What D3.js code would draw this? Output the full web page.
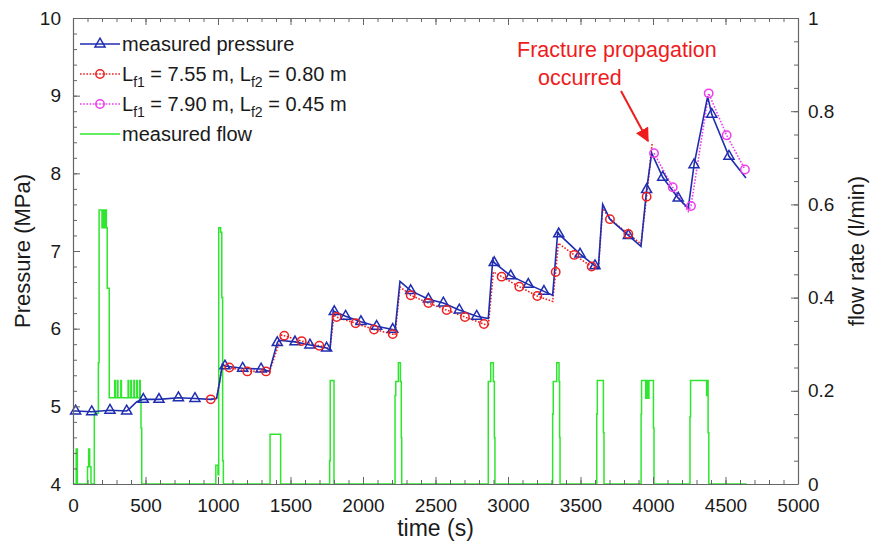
<!DOCTYPE html>
<html>
<head>
<meta charset="utf-8">
<script src="https://cdn.jsdelivr.net/npm/d3@7"></script>
<style>
  html, body { margin: 0; padding: 0; background: #fff; }
  svg { display: block; font-family: "Liberation Sans", Arial, Helvetica, sans-serif; }
</style>
</head>
<body>
<svg id="chart" width="875" height="550"></svg>
<script>
// Measured pressure curve: [time (s), pressure (MPa)]
const pressureLine = [
  [0, 4.94], [18, 4.94], [129, 4.93], [255, 4.95], [370, 4.94], [385, 4.96], [440, 5.06],
  [485, 5.09], [593, 5.09], [727, 5.11], [841, 5.10], [950, 5.09], [990, 5.10], [1010, 5.30],
  [1030, 5.54], [1048, 5.52], [1170, 5.49], [1297, 5.48], [1354, 5.45], [1409, 5.82], [1420, 5.85],
  [1531, 5.83], [1634, 5.79], [1749, 5.75], [1772, 5.72], [1795, 6.24], [1802, 6.22],
  [1880, 6.16], [1986, 6.09], [2094, 6.03], [2205, 5.99], [2221, 5.98], [2255, 6.61],
  [2329, 6.49], [2451, 6.38], [2554, 6.33], [2664, 6.24], [2784, 6.16], [2864, 6.13],
  [2895, 6.89], [2905, 6.85], [3019, 6.68], [3140, 6.57], [3248, 6.48], [3308, 6.43],
  [3343, 7.25], [3350, 7.22], [3497, 6.96], [3600, 6.81], [3623, 6.78], [3653, 7.60],
  [3703, 7.41], [3830, 7.20], [3917, 7.06], [3956, 7.79], [3991, 8.26], [4067, 7.95],
  [4174, 7.68], [4243, 7.55], [4283, 8.11], [4377, 8.99], [4405, 8.76], [4524, 8.22], [4641, 7.94]
];
// Triangle markers on the measured pressure curve
const pressureMarkers = [
  [18, 4.94], [129, 4.93], [255, 4.95], [370, 4.94], [485, 5.09], [593, 5.09], [727, 5.11],
  [841, 5.10], [1048, 5.52], [1170, 5.49], [1297, 5.48], [1409, 5.82], [1531, 5.83],
  [1634, 5.79], [1749, 5.75], [1802, 6.22], [1880, 6.16], [1986, 6.09], [2094, 6.03],
  [2205, 5.99], [2329, 6.49], [2451, 6.38], [2554, 6.33], [2664, 6.24], [2784, 6.16],
  [2905, 6.85], [3019, 6.68], [3140, 6.57], [3248, 6.48], [3350, 7.22], [3497, 6.96],
  [3600, 6.81], [3830, 7.20], [3956, 7.79], [4067, 7.95], [4174, 7.68], [4283, 8.11],
  [4405, 8.76], [4524, 8.22]
];

// Model, Lf1 = 7.55 m, Lf2 = 0.80 m
const model1Line = [
  [950, 5.09], [990, 5.10], [1030, 5.52], [1078, 5.50], [1202, 5.45], [1331, 5.45], [1354, 5.44],
  [1440, 5.92], [1457, 5.91], [1577, 5.84], [1699, 5.78], [1772, 5.74], [1800, 6.18],
  [1818, 6.15], [1949, 6.07], [2076, 5.99], [2205, 5.93], [2221, 5.92], [2255, 6.54],
  [2329, 6.43], [2451, 6.33], [2577, 6.24], [2703, 6.15], [2834, 6.06], [2864, 6.03],
  [2899, 6.73], [2956, 6.67], [3078, 6.54], [3202, 6.42], [3308, 6.35], [3329, 6.73],
  [3347, 7.10], [3457, 6.95], [3577, 6.80], [3623, 6.77], [3653, 7.55], [3703, 7.41],
  [3830, 7.22], [3917, 7.09], [3956, 7.70], [3995, 8.40]
];
const model1Markers = [
  [950, 5.09], [1078, 5.50], [1202, 5.45], [1331, 5.45], [1457, 5.91], [1577, 5.84],
  [1699, 5.78], [1818, 6.15], [1949, 6.07], [2076, 5.99], [2205, 5.93], [2329, 6.43],
  [2451, 6.33], [2577, 6.24], [2703, 6.15], [2834, 6.06], [2956, 6.67], [3078, 6.54],
  [3202, 6.42], [3329, 6.73], [3457, 6.95], [3577, 6.80], [3703, 7.41], [3830, 7.22],
  [3956, 7.70]
];

// Model, Lf1 = 7.90 m, Lf2 = 0.45 m
const model2Line = [
  [4007, 8.26], [4136, 7.82], [4243, 7.51], [4262, 7.58], [4384, 9.03], [4508, 8.49], [4634, 8.05]
];
const model2Markers = [
  [4007, 8.26], [4136, 7.82], [4262, 7.58], [4384, 9.03], [4508, 8.49], [4634, 8.05]
];

// Measured flow rate, step-after samples: [time (s), flow (l/min)]
const flowSteps = [
  [0, 0], [22, 0.075], [30, 0], [100, 0.037], [108, 0.075], [115, 0.037], [124, 0],
  [147, 0.152], [175, 0.26], [180, 0.588], [200, 0.55], [203, 0.588], [207, 0.55], [210, 0.588],
  [214, 0.55], [218, 0.588], [222, 0.55], [226, 0.588], [230, 0.55], [236, 0.42], [250, 0.185],
  [288, 0.222], [292, 0.185], [306, 0.222], [310, 0.185], [330, 0.222], [334, 0.185],
  [380, 0.222], [384, 0.185], [399, 0.222], [403, 0.185], [420, 0.222], [424, 0.185],
  [440, 0.222], [444, 0.185], [460, 0.222], [464, 0.185], [469, 0.12], [474, 0],
  [985, 0.04], [1000, 0.02], [1005, 0.55], [1018, 0.54], [1026, 0.40], [1032, 0.05], [1037, 0],
  [1359, 0.107], [1432, 0],
  [1770, 0.05], [1774, 0.222], [1800, 0],
  [2221, 0.19], [2226, 0.22], [2244, 0.26], [2258, 0.22], [2264, 0.1], [2267, 0],
  [2864, 0.22], [2881, 0.26], [2899, 0.22], [2906, 0.1], [2910, 0],
  [3308, 0.15], [3312, 0.22], [3336, 0.26], [3352, 0.22], [3356, 0.1], [3359, 0],
  [3612, 0.15], [3616, 0.222], [3658, 0.11], [3662, 0],
  [3918, 0.15], [3921, 0.222], [3950, 0.184], [3958, 0.222], [3968, 0.184], [3972, 0.222],
  [4003, 0.12], [4007, 0],
  [4255, 0.144], [4259, 0.222], [4370, 0.19], [4376, 0.222], [4380, 0.11], [4385, 0],
  [4646, 0]
];

const xTicks = d3.range(0, 5001, 500);
const pressureTicks = [4, 5, 6, 7, 8, 9, 10];
const flowTicks = [0, 0.2, 0.4, 0.6, 0.8, 1];

const colors = {
  pressure: "#1f2db0",
  model1: "#ee2020",
  model2: "#ee3cee",
  flow: "#2ee62e",
  axis: "#666666",
  text: "#1a1a1a",
  note: "#ee1c1c"
};

const plotLeft = 73, plotRight = 798, plotTop = 18, plotBottom = 484;
const svg = d3.select("#chart");

const x = d3.scaleLinear().domain([0, 5000]).range([plotLeft, plotRight]);
const yP = d3.scaleLinear().domain([4, 10]).range([plotBottom, plotTop]);
const yQ = d3.scaleLinear().domain([0, 1]).range([plotBottom, plotTop]);

// flow first so pressure sits on top
const flowLine = d3.line().x(d => x(d[0])).y(d => yQ(d[1])).curve(d3.curveStepAfter);
svg.append("path").datum(flowSteps)
  .attr("d", flowLine).attr("fill", "none")
  .attr("stroke", colors.flow).attr("stroke-width", 1.5);

const pLine = d3.line().x(d => x(d[0])).y(d => yP(d[1]));

svg.append("path").datum(model1Line)
  .attr("d", pLine).attr("fill", "none")
  .attr("stroke", colors.model1).attr("stroke-width", 1.6)
  .attr("stroke-dasharray", "1.6,1.6");
svg.append("path").datum(model2Line)
  .attr("d", pLine).attr("fill", "none")
  .attr("stroke", colors.model2).attr("stroke-width", 1.6)
  .attr("stroke-dasharray", "1.6,1.6");
svg.append("path").datum(pressureLine)
  .attr("d", pLine).attr("fill", "none")
  .attr("stroke", colors.pressure).attr("stroke-width", 1.6);

const tri = d3.symbol().type(d3.symbolTriangle).size(44);
svg.append("g").selectAll("path").data(pressureMarkers).join("path")
  .attr("transform", d => `translate(${x(d[0])},${yP(d[1])})`)
  .attr("d", tri).attr("fill", "none")
  .attr("stroke", colors.pressure).attr("stroke-width", 1.5);

svg.append("g").selectAll("circle").data(model1Markers).join("circle")
  .attr("cx", d => x(d[0])).attr("cy", d => yP(d[1])).attr("r", 4.2)
  .attr("fill", "none").attr("stroke", colors.model1).attr("stroke-width", 1.5);
svg.append("g").selectAll("circle").data(model2Markers).join("circle")
  .attr("cx", d => x(d[0])).attr("cy", d => yP(d[1])).attr("r", 4.2)
  .attr("fill", "none").attr("stroke", colors.model2).attr("stroke-width", 1.5);

// axes with inward ticks
function styleAxis(g) {
  g.selectAll(".domain").attr("stroke", colors.axis).attr("stroke-width", 1.2);
  g.selectAll(".tick line").attr("stroke", colors.axis).attr("stroke-width", 1);
  g.selectAll("text").attr("fill", colors.text).attr("font-size", 19)
    .attr("font-family", '"Liberation Sans", Arial, sans-serif');
}
function steps(domain, step) {
  const out = [];
  for (let v = domain[0]; v <= domain[1] + 1e-9; v += step) out.push(+v.toFixed(4));
  return out;
}
const plain = d => String(d);

svg.append("g").attr("transform", `translate(0,${plotBottom})`)
  .call(d3.axisBottom(x).tickValues(steps([0, 5000], 100)).tickSize(-4).tickSizeOuter(0).tickFormat(""))
  .call(g => g.select(".domain").remove()).call(styleAxis);
svg.append("g").attr("transform", `translate(0,${plotBottom})`)
  .call(d3.axisBottom(x).tickValues(xTicks).tickSize(-7).tickSizeOuter(0).tickPadding(15).tickFormat(plain))
  .call(styleAxis);

svg.append("g").attr("transform", `translate(0,${plotTop})`)
  .call(d3.axisTop(x).tickValues(steps([0, 5000], 100)).tickSize(-4).tickSizeOuter(0).tickFormat(""))
  .call(g => g.select(".domain").remove()).call(styleAxis);
svg.append("g").attr("transform", `translate(0,${plotTop})`)
  .call(d3.axisTop(x).tickValues(xTicks).tickSize(-7).tickSizeOuter(0).tickFormat(""))
  .call(styleAxis);

svg.append("g").attr("transform", `translate(${plotLeft},0)`)
  .call(d3.axisLeft(yP).tickValues(steps([4, 10], 0.2)).tickSize(-4).tickSizeOuter(0).tickFormat(""))
  .call(g => g.select(".domain").remove()).call(styleAxis);
svg.append("g").attr("transform", `translate(${plotLeft},0)`)
  .call(d3.axisLeft(yP).tickValues(pressureTicks).tickSize(-7).tickSizeOuter(0).tickPadding(12).tickFormat(plain))
  .call(styleAxis);

svg.append("g").attr("transform", `translate(${plotRight},0)`)
  .call(d3.axisRight(yQ).tickValues(steps([0, 1], 0.05)).tickSize(-4).tickSizeOuter(0).tickFormat(""))
  .call(g => g.select(".domain").remove()).call(styleAxis);
svg.append("g").attr("transform", `translate(${plotRight},0)`)
  .call(d3.axisRight(yQ).tickValues(flowTicks).tickSize(-7).tickSizeOuter(0).tickPadding(10).tickFormat(plain))
  .call(styleAxis);

// axis titles
svg.append("text").attr("x", (plotLeft + plotRight) / 2).attr("y", 536)
  .attr("text-anchor", "middle").attr("font-size", 23).attr("fill", colors.text).text("time (s)");
svg.append("text").attr("transform", `translate(30,${(plotTop + plotBottom) / 2}) rotate(-90)`)
  .attr("text-anchor", "middle").attr("font-size", 22).attr("fill", colors.text).text("Pressure (MPa)");
svg.append("text").attr("transform", `translate(864,${(plotTop + plotBottom) / 2}) rotate(-90)`)
  .attr("text-anchor", "middle").attr("font-size", 22).attr("fill", colors.text).text("flow rate (l/min)");

// legend
const legend = svg.append("g");
const legendRows = [
  { y: 44, color: colors.pressure, dash: null, marker: "tri", label: [["measured pressure"]] },
  { y: 74, color: colors.model1, dash: "1.6,1.6", marker: "circle",
    label: [["L"], ["f1", "sub"], [" = 7.55 m, L"], ["f2", "sub"], [" = 0.80 m"]] },
  { y: 104, color: colors.model2, dash: "1.6,1.6", marker: "circle",
    label: [["L"], ["f1", "sub"], [" = 7.90 m, L"], ["f2", "sub"], [" = 0.45 m"]] },
  { y: 134, color: colors.flow, dash: null, marker: null, label: [["measured flow"]] }
];
legendRows.forEach(r => {
  legend.append("line").attr("x1", 80).attr("x2", 120).attr("y1", r.y).attr("y2", r.y)
    .attr("stroke", r.color).attr("stroke-width", 1.6).attr("stroke-dasharray", r.dash);
  if (r.marker === "tri") {
    legend.append("path").attr("transform", `translate(100,${r.y})`).attr("d", tri)
      .attr("fill", "none").attr("stroke", r.color).attr("stroke-width", 1.5);
  } else if (r.marker === "circle") {
    legend.append("circle").attr("cx", 100).attr("cy", r.y).attr("r", 4.2)
      .attr("fill", "none").attr("stroke", r.color).attr("stroke-width", 1.5);
  }
  const t = legend.append("text").attr("x", 122).attr("y", r.y + 7)
    .attr("font-size", 20).attr("fill", colors.text);
  r.label.forEach(([s, kind]) => {
    if (kind === "sub") {
      t.append("tspan").attr("font-size", 14).attr("dy", 6).text(s);
    } else {
      const sp = t.append("tspan").text(s);
      if (s.startsWith(" ")) sp.attr("dy", -6);
    }
  });
});

// annotation
svg.append("text").attr("x", 517).attr("y", 57).attr("font-size", 21.5)
  .attr("fill", colors.note).text("Fracture propagation");
svg.append("text").attr("x", 538).attr("y", 85).attr("font-size", 21.5)
  .attr("fill", colors.note).text("occurred");
svg.append("defs").append("marker").attr("id", "arrowhead")
  .attr("viewBox", "0 0 10 10").attr("refX", 9).attr("refY", 5)
  .attr("markerWidth", 7).attr("markerHeight", 7).attr("orient", "auto")
  .append("path").attr("d", "M0,0 L10,5 L0,10 z").attr("fill", colors.note);
svg.append("line").attr("x1", 621).attr("y1", 91).attr("x2", 648).attr("y2", 141)
  .attr("stroke", colors.note).attr("stroke-width", 2).attr("marker-end", "url(#arrowhead)");
</script>
</body>
</html>
